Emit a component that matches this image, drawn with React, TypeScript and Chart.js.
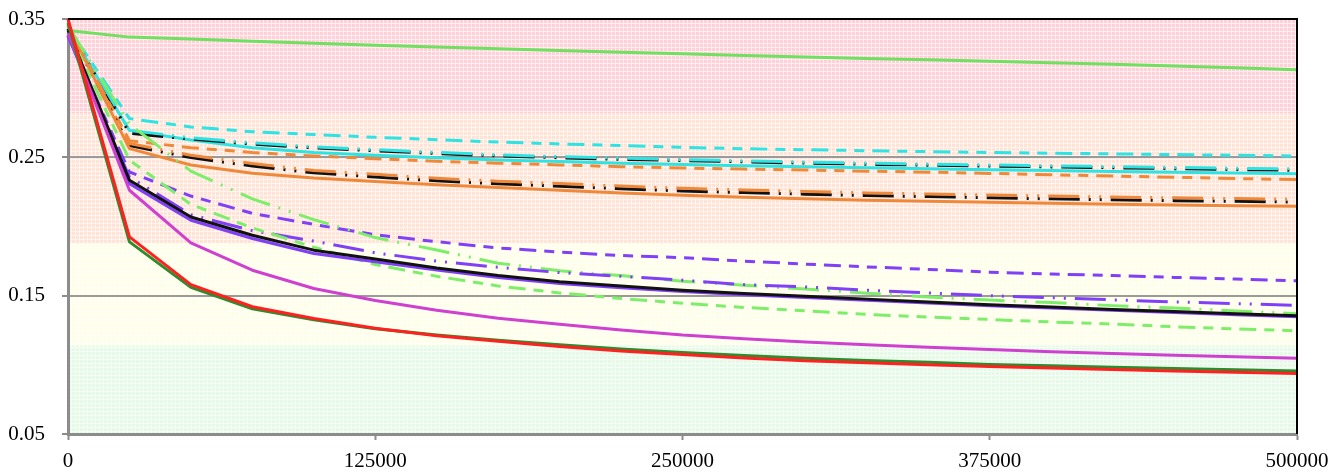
import React, { useEffect, useRef } from 'react';
import { Chart, registerables } from 'chart.js';

Chart.register(...registerables);

// ---- data ----
const xSteps = [0, 25000, 50000, 75000, 100000, 125000, 150000, 175000, 200000, 225000, 250000, 275000, 300000, 325000, 350000, 375000, 400000, 425000, 450000, 475000, 500000];
const xTicks = [0, 125000, 250000, 375000, 500000];
const yTicks = [0.05, 0.15, 0.25, 0.35];
const gridValues = [0.15, 0.25];
const bandEdges = [0.35, 0.282, 0.188, 0.114, 0.05];
const bandColors = ['#FFD0D7', '#FFE4D6', '#FFFFE8', '#E4F9E6'];

const greenTop = [0.3417, 0.3369, 0.3355, 0.334, 0.3325, 0.331, 0.3298, 0.3285, 0.3272, 0.326, 0.3248, 0.3237, 0.3226, 0.3215, 0.3205, 0.3195, 0.3184, 0.3172, 0.316, 0.3147, 0.3133];
const cyanDashed = [0.344, 0.278, 0.272, 0.2685, 0.2665, 0.2645, 0.2628, 0.261, 0.2597, 0.2585, 0.2572, 0.2562, 0.2555, 0.2548, 0.2541, 0.2535, 0.253, 0.2525, 0.252, 0.2515, 0.251];
const cyanLDD = [0.345, 0.2695, 0.2642, 0.2605, 0.2576, 0.2556, 0.2536, 0.2518, 0.2505, 0.2494, 0.2484, 0.2475, 0.2466, 0.2458, 0.2451, 0.2445, 0.2439, 0.2433, 0.2427, 0.2421, 0.2416];
const blackUpperLDD = [0.343, 0.2675, 0.2632, 0.2596, 0.2568, 0.2548, 0.2528, 0.251, 0.2497, 0.2486, 0.2477, 0.2467, 0.2458, 0.245, 0.2443, 0.2437, 0.2431, 0.2425, 0.2418, 0.2412, 0.2406];
const cyanSolid = [0.343, 0.2695, 0.2625, 0.257, 0.2535, 0.2515, 0.2497, 0.248, 0.247, 0.2458, 0.2448, 0.244, 0.2432, 0.2425, 0.2418, 0.241, 0.2404, 0.2398, 0.2392, 0.2387, 0.2382];
const orangeDashed = [0.345, 0.262, 0.257, 0.2535, 0.251, 0.249, 0.2472, 0.2458, 0.2445, 0.2432, 0.2423, 0.2415, 0.2408, 0.24, 0.2393, 0.2384, 0.2374, 0.2365, 0.2356, 0.2347, 0.2339];
const orangeLDD = [0.345, 0.26, 0.2515, 0.2455, 0.2405, 0.2377, 0.2348, 0.2328, 0.231, 0.2292, 0.2276, 0.2264, 0.2253, 0.2243, 0.2235, 0.2228, 0.222, 0.2213, 0.2207, 0.2202, 0.2197];
const blackLowerLDD = [0.343, 0.2585, 0.2498, 0.2437, 0.2388, 0.2358, 0.233, 0.2309, 0.2291, 0.2273, 0.2257, 0.2245, 0.2234, 0.2224, 0.2216, 0.2208, 0.22, 0.2193, 0.2187, 0.2182, 0.2177];
const orangeSolid = [0.345, 0.2563, 0.2445, 0.2385, 0.235, 0.2325, 0.2302, 0.2282, 0.2262, 0.2243, 0.2226, 0.2212, 0.22, 0.219, 0.2182, 0.2175, 0.2168, 0.2161, 0.2155, 0.215, 0.2146];
const greenLDD = [0.345, 0.274, 0.24, 0.22, 0.205, 0.192, 0.183, 0.1735, 0.168, 0.1645, 0.1605, 0.1575, 0.1548, 0.1518, 0.149, 0.1468, 0.145, 0.1428, 0.141, 0.139, 0.137];
const purpleDashed = [0.338, 0.2394, 0.222, 0.2095, 0.2015, 0.194, 0.189, 0.1845, 0.1815, 0.179, 0.1775, 0.175, 0.1728, 0.1708, 0.169, 0.167, 0.1657, 0.1645, 0.1632, 0.162, 0.1607];
const purpleLDD = [0.338, 0.2358, 0.2085, 0.197, 0.1895, 0.181, 0.175, 0.1705, 0.1667, 0.164, 0.1612, 0.158, 0.1563, 0.154, 0.152, 0.15, 0.1485, 0.147, 0.1455, 0.1443, 0.143];
const blackSolid = [0.342, 0.2334, 0.2069, 0.1937, 0.1829, 0.1765, 0.17, 0.1645, 0.16, 0.157, 0.154, 0.1515, 0.1495, 0.1475, 0.1455, 0.1435, 0.1418, 0.14, 0.1385, 0.137, 0.1355];
const purpleSolid = [0.338, 0.231, 0.2045, 0.1913, 0.1805, 0.1745, 0.1685, 0.1632, 0.1588, 0.1558, 0.153, 0.1506, 0.1486, 0.1466, 0.1447, 0.1428, 0.1411, 0.1394, 0.1378, 0.1362, 0.1347];
const greenDashed = [0.342, 0.248, 0.216, 0.199, 0.185, 0.1725, 0.164, 0.157, 0.152, 0.148, 0.1445, 0.1415, 0.139, 0.1365, 0.1345, 0.1328, 0.131, 0.1295, 0.1275, 0.126, 0.1246];
const magentaSolid = [0.34, 0.2262, 0.1881, 0.1684, 0.1552, 0.1465, 0.1395, 0.1337, 0.1293, 0.1252, 0.1215, 0.1188, 0.1165, 0.1145, 0.1127, 0.111, 0.1095, 0.1082, 0.107, 0.1058, 0.1047];
const redSolid = [0.35, 0.1925, 0.158, 0.142, 0.1335, 0.1265, 0.121, 0.117, 0.1132, 0.11, 0.1075, 0.105, 0.103, 0.1015, 0.1, 0.0988, 0.0977, 0.0966, 0.0956, 0.0947, 0.0938];
const darkGreenSolid = [0.347, 0.1889, 0.156, 0.1405, 0.1325, 0.126, 0.1215, 0.1178, 0.1145, 0.1115, 0.109, 0.1067, 0.1048, 0.1032, 0.1018, 0.1003, 0.0993, 0.0983, 0.0973, 0.0964, 0.0955];

// ---- styles ----
const DASH = [17, 8, 10, 8, 10, 8];
const LDD = [31, 9, 2, 9, 2, 9];
const SOLID: number[] = [];

const C_GREEN_TOP = '#6FE05F';
const C_CYAN = '#2EE3E3';
const C_ORANGE = '#F0883A';
const C_BLACK = '#111111';
const C_PURPLE = '#8040F8';
const C_MAGENTA = '#D040D0';
const C_GREEN_LT = '#7DEE6A';
const C_GREEN_DK = '#2E8B2E';
const C_RED = '#FF2020';

const FONT = { family: "'Liberation Serif', 'Times New Roman', serif", size: 21 };

function mk(label: string, values: number[], color: string, dash: number[], width = 3) {
  return {
    label,
    data: values.map((v, i) => ({ x: xSteps[i], y: v })),
    borderColor: color,
    backgroundColor: color,
    borderWidth: width,
    borderDash: dash,
    borderCapStyle: 'butt',
    borderJoinStyle: 'round',
    pointRadius: 0,
    pointHoverRadius: 0,
    tension: 0,
    fill: false,
    clip: 4,
  };
}

function makePattern(ctx: CanvasRenderingContext2D, color: string) {
  const c = document.createElement('canvas');
  c.width = 4;
  c.height = 4;
  const p = c.getContext('2d')!;
  p.fillStyle = color;
  p.fillRect(0, 0, 4, 4);
  p.fillStyle = 'rgba(255,255,255,0.65)';
  p.fillRect(3, 0, 1, 4);
  p.fillRect(0, 3, 3, 1);
  return ctx.createPattern(c, 'repeat') || color;
}

const bandsPlugin = {
  id: 'bands',
  beforeDraw(chart: any) {
    const { ctx, chartArea, scales } = chart;
    const y = scales.y;
    ctx.save();
    for (let i = 0; i < bandColors.length; i++) {
      const top = y.getPixelForValue(bandEdges[i]);
      const bot = y.getPixelForValue(bandEdges[i + 1]);
      ctx.fillStyle = makePattern(ctx, bandColors[i]);
      ctx.fillRect(chartArea.left, top, chartArea.right - chartArea.left, bot - top);
    }
    ctx.restore();
  },
  afterDraw(chart: any) {
    const { ctx, chartArea } = chart;
    ctx.save();
    ctx.strokeStyle = '#000';
    ctx.lineWidth = 2;
    ctx.beginPath();
    ctx.moveTo(chartArea.left, chartArea.top);
    ctx.lineTo(chartArea.right, chartArea.top);
    ctx.lineTo(chartArea.right, chartArea.bottom);
    ctx.stroke();
    ctx.restore();
  },
};

export default function App() {
  const ref = useRef<HTMLCanvasElement | null>(null);

  useEffect(() => {
    if (!ref.current) return;
    const datasets = [
      mk('red', redSolid, C_RED, SOLID),
      mk('darkGreen', darkGreenSolid, C_GREEN_DK, SOLID),
      mk('magenta', magentaSolid, C_MAGENTA, SOLID),
      mk('blackSolid', blackSolid, C_BLACK, SOLID),
      mk('purpleSolid', purpleSolid, C_PURPLE, SOLID),
      mk('greenDashed', greenDashed, C_GREEN_LT, DASH),
      mk('purpleLDD', purpleLDD, C_PURPLE, LDD),
      mk('greenLDD', greenLDD, C_GREEN_LT, LDD),
      mk('purpleDashed', purpleDashed, C_PURPLE, DASH),
      mk('orangeSolid', orangeSolid, C_ORANGE, SOLID),
      mk('orangeLDD', orangeLDD, C_ORANGE, LDD),
      mk('blackLowerLDD', blackLowerLDD, C_BLACK, LDD),
      mk('orangeDashed', orangeDashed, C_ORANGE, DASH),
      mk('cyanLDD', cyanLDD, C_CYAN, LDD),
      mk('blackUpperLDD', blackUpperLDD, C_BLACK, LDD),
      mk('cyanSolid', cyanSolid, C_CYAN, SOLID),
      mk('cyanDashed', cyanDashed, C_CYAN, DASH),
      mk('greenTop', greenTop, C_GREEN_TOP, SOLID),
    ];

    const chart = new Chart(ref.current, {
      type: 'line',
      data: { datasets: datasets as any },
      plugins: [bandsPlugin],
      options: {
        animation: false,
        responsive: false,
        events: [],
        layout: { autoPadding: false, padding: { left: 0, right: 47, top: 19, bottom: 0 } },
        plugins: { legend: { display: false }, tooltip: { enabled: false }, title: { display: false } },
        scales: {
          x: {
            type: 'linear',
            min: 0,
            max: 500000,
            afterBuildTicks: (s: any) => { s.ticks = xTicks.map((v) => ({ value: v })); },
            afterFit: (s: any) => { s.height = 38; s.paddingLeft = 0; s.paddingRight = 0; },
            grid: { drawOnChartArea: false, drawTicks: true, tickLength: 6, tickColor: '#8c8c8c', tickWidth: 2 },
            border: { display: true, color: '#8c8c8c', width: 3 },
            ticks: {
              color: '#000',
              font: FONT,
              padding: 9,
              maxRotation: 0,
              autoSkip: false,
              callback: (v: any) => String(v),
            },
          },
          y: {
            type: 'linear',
            min: 0.05,
            max: 0.35,
            afterBuildTicks: (s: any) => { s.ticks = yTicks.map((v) => ({ value: v })); },
            afterFit: (s: any) => { s.width = 68; s.paddingTop = 0; s.paddingBottom = 0; },
            grid: {
              drawTicks: true,
              tickLength: 6,
              tickColor: '#8c8c8c',
              tickWidth: 2,
              lineWidth: 2,
              color: (c: any) => {
                const t = c.tick;
                if (!t) return 'rgba(0,0,0,0)';
                return gridValues.some((g) => Math.abs(g - t.value) < 1e-6) ? '#9a9a9a' : 'rgba(0,0,0,0)';
              },
            },
            border: { display: true, color: '#8c8c8c', width: 3 },
            ticks: {
              color: '#000',
              font: FONT,
              padding: 17,
              autoSkip: false,
              callback: (v: any) => Number(v).toFixed(2),
            },
          },
        },
      } as any,
    });
    return () => chart.destroy();
  }, []);

  return (
    <div style={{ position: 'fixed', left: 0, top: 0, width: 1344, height: 472, background: '#fff' }}>
      <canvas ref={ref} width={1344} height={472} style={{ display: 'block', width: 1344, height: 472 }} />
    </div>
  );
}
